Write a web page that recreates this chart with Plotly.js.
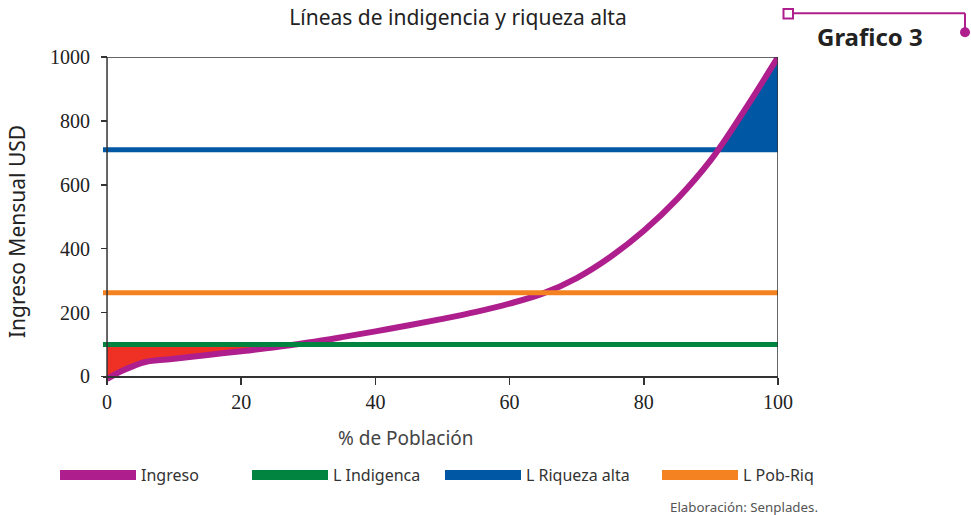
<!DOCTYPE html>
<html>
<head>
<meta charset="utf-8">
<script src="https://cdn.plot.ly/plotly-3.0.1.min.js"></script>
<style>html,body{margin:0;padding:0;background:#fff;}#chart{width:971px;height:515px;}</style>
</head>
<body>
<div id="chart"></div>
<script>
// ---- data ----
const poblacion = [0, 2, 4, 5.7, 10, 15, 20, 25, 30, 35, 40, 45, 50, 55, 60, 65, 70, 75, 80, 85, 90, 95, 100];
const ingreso   = [-8, 15, 33, 45, 55, 67, 79, 91, 106, 123, 141, 160, 180, 202, 228, 260, 308, 374, 456, 556, 678, 833, 1000];
const lIndigencia = 100;
const lRiquezaAlta = 710;
const lPobRiq = 262;
const xRange = [-0.6, 100];
const seriesNames = ["Ingreso", "L Indigenca", "L Riqueza alta", "L Pob-Riq"];
const xTicks = [0, 20, 40, 60, 80, 100];
const yTicks = [0, 200, 400, 600, 800, 1000];

// ---- colours ----
const cIngreso = "#AE1F8D", cInd = "#00843F", cRiq = "#0057A4", cPob = "#F58220", cRed = "#EE3124";

// segment of the curve below (side=-1) or above (side=1) a level, with the crossing point
function segment(xs, ys, level, side) {
  const sx = [], sy = [];
  for (let i = 0; i < xs.length; i++) {
    const inside = side < 0 ? ys[i] <= level : ys[i] >= level;
    if (i > 0) {
      const prevIn = side < 0 ? ys[i-1] <= level : ys[i-1] >= level;
      if (prevIn !== inside) {
        const t = (level - ys[i-1]) / (ys[i] - ys[i-1]);
        sx.push(xs[i-1] + t * (xs[i] - xs[i-1])); sy.push(level);
      }
    }
    if (inside) { sx.push(xs[i]); sy.push(ys[i]); }
  }
  return {x: sx, y: sy};
}
const redSeg = segment(poblacion, ingreso, lIndigencia, -1);
const blueSeg = segment(poblacion, ingreso, lRiquezaAlta, 1);

const traces = [
  {x: redSeg.x, y: redSeg.x.map(() => lIndigencia), mode: "lines", line: {width: 0, color: cRed}, showlegend: false, hoverinfo: "skip"},
  {x: redSeg.x, y: redSeg.y, mode: "lines", fill: "tonexty", fillcolor: cRed, line: {width: 0, color: cRed}, showlegend: false, hoverinfo: "skip"},
  {x: blueSeg.x, y: blueSeg.x.map(() => lRiquezaAlta), mode: "lines", line: {width: 0, color: cRiq}, showlegend: false, hoverinfo: "skip"},
  {x: blueSeg.x, y: blueSeg.y, mode: "lines", fill: "tonexty", fillcolor: cRiq, line: {width: 0, color: cRiq}, showlegend: false, hoverinfo: "skip"},
  {x: xRange, y: [lRiquezaAlta, lRiquezaAlta], mode: "lines", line: {width: 5, color: cRiq}, showlegend: false},
  {x: poblacion, y: ingreso, mode: "lines", line: {width: 6, color: cIngreso, shape: "spline", smoothing: 1}, showlegend: false},
  {x: xRange, y: [lPobRiq, lPobRiq], mode: "lines", line: {width: 5, color: cPob}, showlegend: false},
  {x: xRange, y: [lIndigencia, lIndigencia], mode: "lines", line: {width: 5, color: cInd}, showlegend: false},
  // legend entries
  {x: [null], y: [null], mode: "lines", name: seriesNames[0], legend: "legend",  line: {width: 12, color: cIngreso}},
  {x: [null], y: [null], mode: "lines", name: seriesNames[1], legend: "legend2", line: {width: 12, color: cInd}},
  {x: [null], y: [null], mode: "lines", name: seriesNames[2], legend: "legend3", line: {width: 12, color: cRiq}},
  {x: [null], y: [null], mode: "lines", name: seriesNames[3], legend: "legend4", line: {width: 12, color: cPob}}
];

// pixel helpers for decorations (plot area: left 103, width 675, top 57, height 329)
const L = 103, W = 675, T = 57, H = 329;
const px = v => (v - L) / W;
const py = v => (T + H - v) / H;
const frame = "#333333";

function legendAt(xPix) {
  return {orientation: "h", x: px(xPix), xanchor: "left", y: py(475), yanchor: "middle", itemwidth: 76,
          font: {family: "Noto Sans, sans-serif", size: 16, color: "#333"}, bgcolor: "rgba(0,0,0,0)"};
}

const layout = {
  width: 971, height: 515,
  margin: {l: L, r: 971 - L - W, t: T, b: 515 - T - H, pad: 0},
  paper_bgcolor: "#fff", plot_bgcolor: "#fff",
  font: {family: "Noto Sans, sans-serif", color: "#222"},
  title: {text: "Líneas de indigencia y riqueza alta", x: 458/971, xanchor: "center", y: 1 - 18/515, yanchor: "middle",
          font: {family: "Noto Sans, sans-serif", size: 21, color: "#222"}},
  xaxis: {range: xRange, anchor: "free", position: 30/1030, showgrid: false, zeroline: false,
          showline: true, linecolor: frame, linewidth: 1.5, ticks: "outside", ticklen: 7, tickcolor: frame, tickwidth: 1.5,
          tickvals: xTicks, ticktext: xTicks.map(String), ticklabelstandoff: 0,
          tickfont: {family: "Liberation Serif, serif", size: 20, color: "#222"}},
  yaxis: {range: [-30, 1000], anchor: "free", position: 0.6/100.6, showgrid: false, zeroline: false, showline: false,
          ticks: "outside", ticklen: 6, tickcolor: frame, tickwidth: 1.5,
          tickvals: yTicks, ticktext: yTicks.map(String), ticklabelstandoff: 7,
          tickfont: {family: "Liberation Serif, serif", size: 20, color: "#222"}},
  showlegend: true,
  legend: legendAt(55),
  legend2: legendAt(247),
  legend3: legendAt(440),
  legend4: legendAt(657),
  shapes: [
    {type: "line", xref: "x", yref: "y", x0: 0, x1: 0, y0: -4, y1: 1000, line: {color: frame, width: 1.5}},
    {type: "line", xref: "x", yref: "y", x0: xRange[0], x1: 100, y0: 1000, y1: 1000, line: {color: frame, width: 1.5}},
    {type: "line", xref: "x", yref: "y", x0: 100, x1: 100, y0: 0, y1: 1000, line: {color: frame, width: 1.5}},
    {type: "line", xref: "paper", yref: "paper", x0: px(793), x1: px(965), y0: py(13.3), y1: py(13.3), line: {color: cIngreso, width: 2}},
    {type: "line", xref: "paper", yref: "paper", x0: px(965), x1: px(965), y0: py(13.3), y1: py(30), line: {color: cIngreso, width: 2}},
    {type: "rect", xref: "paper", yref: "paper", x0: px(783.5), x1: px(793), y0: py(9), y1: py(18.5), line: {color: cIngreso, width: 2}, fillcolor: "#fff"},
    {type: "circle", xref: "paper", yref: "paper", x0: px(960), x1: px(970), y0: py(27.3), y1: py(37.3), line: {color: cIngreso, width: 0}, fillcolor: cIngreso}
  ],
  annotations: [
    {text: "Grafico 3", xref: "paper", yref: "paper", x: px(869.5), y: py(36), xanchor: "center", yanchor: "middle", showarrow: false,
     font: {family: "Noto Sans, sans-serif", size: 24, color: "#222", weight: "bold"}},
    {text: "Ingreso Mensual USD", xref: "paper", yref: "paper", x: px(17), y: py(232), xanchor: "center", yanchor: "middle", textangle: -90, showarrow: false,
     font: {family: "Noto Sans, sans-serif", size: 21, color: "#222"}},
    {text: "% de Población", xref: "paper", yref: "paper", x: px(406), y: py(438), xanchor: "center", yanchor: "middle", showarrow: false,
     font: {family: "Noto Sans, sans-serif", size: 19, color: "#444"}},
    {text: "Elaboración: Senplades.", xref: "paper", yref: "paper", x: px(820), y: py(507), xanchor: "right", yanchor: "middle", showarrow: false,
     font: {family: "Noto Sans, sans-serif", size: 13.3, color: "#555"}}
  ]
};

Plotly.newPlot("chart", traces, layout, {displayModeBar: false, staticPlot: true});
</script>
</body>
</html>
